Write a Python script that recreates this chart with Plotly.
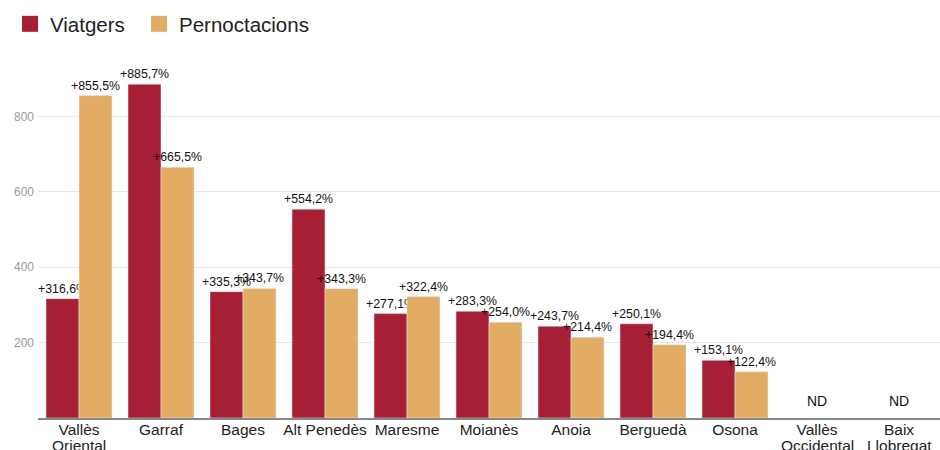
import plotly.graph_objects as go

categories = ["Vallès<br>Oriental", "Garraf", "Bages", "Alt Penedès", "Maresme", "Moianès",
              "Anoia", "Berguedà", "Osona", "Vallès<br>Occidental", "Baix<br>Llobregat"]
viatgers = [316.6, 885.7, 335.3, 554.2, 277.1, 283.3, 243.7, 250.1, 153.1, None, None]
pernoctacions = [855.5, 665.5, 343.7, 343.3, 322.4, 254.0, 214.4, 194.4, 122.4, None, None]
y_ticks = [200, 400, 600, 800]

RED = "#A61F34"
ORANGE = "#E2AC64"


def fmt(v):
    return "" if v is None else "+" + f"{v:.1f}".replace(".", ",") + "%"


fig = go.Figure()
series = [("Viatgers", viatgers, RED, "legend"), ("Pernoctacions", pernoctacions, ORANGE, "legend2")]
for name, vals, col, lg in series:
    fig.add_trace(go.Bar(
        x=categories, y=vals, name=name, marker_color=col, showlegend=False,
        text=[fmt(v) for v in vals], textposition="outside", constraintext="none",
        textfont=dict(size=12.3, color="#111"), cliponaxis=False,
    ))
    # legend-only entry with a larger square swatch
    fig.add_trace(go.Scatter(
        x=[None], y=[None], mode="markers", name=name, legend=lg,
        marker=dict(symbol="square", size=17, color=col),
    ))

first_lines = [c.split("<br>")[0] for c in categories]
for c, a, b in zip(categories, viatgers, pernoctacions):
    parts = c.split("<br>")
    if len(parts) > 1:
        fig.add_annotation(x=c, y=0, text=parts[1], showarrow=False, yanchor="top",
                           yshift=-17, font=dict(size=15.5, color="#222"))
    if a is None and b is None:
        fig.add_annotation(x=c, y=0, text="ND", showarrow=False, yanchor="bottom",
                           yshift=7, font=dict(size=14, color="#111"))

legend_style = dict(orientation="h", xref="container", yref="container",
                    xanchor="left", yanchor="top", font=dict(size=20.5, color="#222"),
                    itemwidth=30, bgcolor="rgba(0,0,0,0)")

fig.update_layout(
    width=940, height=450,
    margin=dict(l=38, r=0, t=60, b=32, autoexpand=False),
    paper_bgcolor="white", plot_bgcolor="white",
    font=dict(family="Liberation Sans, Arial, sans-serif", color="#222"),
    barmode="group", bargap=0.195, bargroupgap=0,
    showlegend=True,
    legend=dict(x=2 / 940 + 0.0085, y=1 - 4 / 450, **legend_style),
    legend2=dict(x=(152 - 13) / 940, y=1 - 4 / 450, **legend_style),
    xaxis=dict(showline=True, linecolor="#888", linewidth=1.5, ticks="", ticklen=0,
               automargin=False,
               tickmode="array", tickvals=categories, ticktext=first_lines,
               tickfont=dict(size=15.5, color="#222"), ticklabelstandoff=-3),
    yaxis=dict(range=[0, 950], tickvals=y_ticks, showgrid=True, gridcolor="#e6e6e6",
               zeroline=False, automargin=False,
               tickfont=dict(size=12, color="#9a9a9a"), ticklabelstandoff=3),
)

fig.write_html("out.html", config={"displayModeBar": False},
               post_script="document.body.style.margin='0';")
